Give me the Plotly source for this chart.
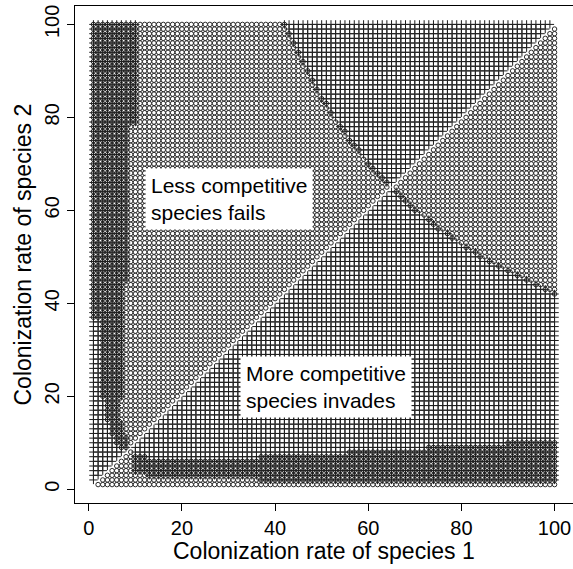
import plotly.graph_objects as go

N = 100
# Rows 66..100 (above the diagonal): first column where the "+" region begins
curve_rows = list(range(66, 101))
curve_cols = [64, 63, 62, 61, 60, 60, 59, 58, 57, 56, 56, 55, 54, 54, 53, 52, 52, 51,
              50, 50, 49, 49, 48, 48, 47, 47, 46, 46, 45, 45, 44, 44, 43, 43, 42]
curve_dark = [66, 67, 68, 69, 70, 73, 74, 75, 77, 78, 81, 83, 84, 86, 88, 90, 92, 94, 96, 98, 100]

# Left dark band above diagonal: (y_from, y_to, first dark col, last dark col)
left_band = [(79, 100, 1, 10), (45, 78, 1, 8), (37, 44, 1, 7), (20, 36, 3, 7),
             (15, 19, 4, 6), (12, 14, 5, 7), (10, 11, 6, 8), (9, 9, 7, 8)]
# Bottom dark band below diagonal: (x_from, x_to, first dark row, last dark row)
bottom_band = [(10, 12, 4, 7), (13, 36, 3, 6), (37, 55, 2, 7), (56, 72, 2, 8),
               (73, 89, 2, 9), (90, 100, 2, 10)]

x_ticks = [0, 20, 40, 60, 80, 100]
y_ticks = [0, 20, 40, 60, 80, 100]

sw = dict(zip(curve_rows, curve_cols))


def classify(x, y):
    if x == y:
        return None
    if y > x:
        if y in sw and x >= sw[y]:
            return "both" if (x == sw[y] and y in curve_dark) else "plus"
        for ylo, yhi, a, b in left_band:
            if ylo <= y <= yhi:
                if x < a:
                    return "plus"
                if x <= b:
                    return "both"
                return "circle"
        return "plus"
    else:
        if x in sw and y >= sw[x]:
            return "both" if (y == sw[x] and x in curve_dark) else "circle"
        for xlo, xhi, lo, hi in bottom_band:
            if xlo <= x <= xhi:
                if y < lo:
                    return "circle"
                if y <= hi:
                    return "both"
                return "plus"
        return "circle"


cx, cy, px, py = [], [], [], []
for x in range(1, N + 1):
    for y in range(1, N + 1):
        c = classify(x, y)
        if c in ("circle", "both"):
            cx.append(x); cy.append(y)
        if c in ("plus", "both"):
            px.append(x); py.append(y)

FONT = "Liberation Sans, Arial, Helvetica, sans-serif"

fig = go.Figure()
fig.add_trace(go.Scatter(x=cx, y=cy, mode="markers", hoverinfo="skip",
                         marker=dict(symbol="circle-open", size=4.5, color="#2b2b2b",
                                     line=dict(width=1, color="#2b2b2b"))))
fig.add_trace(go.Scatter(x=px, y=py, mode="markers", hoverinfo="skip",
                         marker=dict(symbol="cross-thin-open", size=6, color="#1e1e1e",
                                     line=dict(width=1, color="#1e1e1e"))))

fig.add_annotation(x=30.2, y=62.4, text="Less competitive<br>species fails", showarrow=False,
                   align="left", bgcolor="white", borderpad=5,
                   font=dict(family=FONT, size=21, color="black"))
fig.add_annotation(x=51.0, y=21.9, text="More competitive<br>species invades", showarrow=False,
                   align="left", bgcolor="white", borderpad=5,
                   font=dict(family=FONT, size=21, color="black"))

# axis titles
fig.add_annotation(xref="paper", yref="paper", x=0.5, y=0, yanchor="middle", yshift=-48,
                   text="Colonization rate of species 1", showarrow=False,
                   font=dict(family=FONT, size=23, color="black"))
fig.add_annotation(xref="paper", yref="paper", x=0, y=0.5, xanchor="center", xshift=-53,
                   textangle=-90, text="Colonization rate of species 2", showarrow=False,
                   font=dict(family=FONT, size=23, color="black"))

axis_common = dict(showgrid=False, zeroline=False, showline=True, mirror=True,
                   linecolor="black", linewidth=1, ticks="outside", ticklen=7,
                   tickcolor="black",
                   tickfont=dict(family=FONT, size=20, color="black"),
                   range=[-2.96, 103.96])

fig.update_layout(
    width=573, height=569,
    margin=dict(l=75, r=0, t=6, b=66),
    plot_bgcolor="white", paper_bgcolor="white",
    showlegend=False,
    hovermode=False,
    xaxis=dict(**axis_common, tickvals=x_ticks),
    yaxis=dict(**axis_common, tickvals=y_ticks, tickangle=-90),
)

fig.write_html("out.html",
               config={"displayModeBar": False, "staticPlot": True},
               post_script="document.body.style.margin='0';document.body.style.overflow='hidden';")
